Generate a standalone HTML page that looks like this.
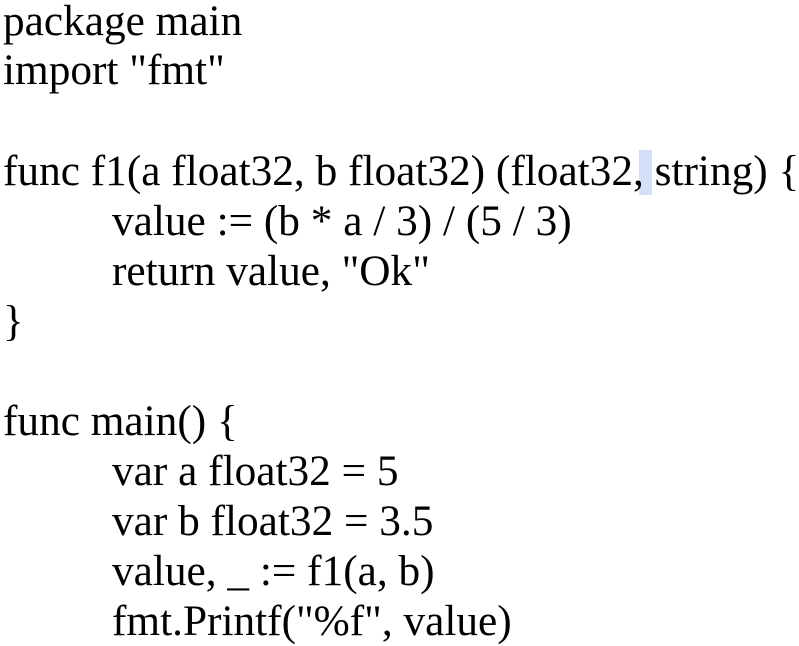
<!DOCTYPE html>
<html><head><meta charset="utf-8"><style>
html,body{margin:0;padding:0;background:#fff;width:799px;height:643px;overflow:hidden}
.l{position:absolute;left:3px;font-family:"Liberation Serif",serif;font-size:43.3px;line-height:50px;color:#000;white-space:pre}
.i{left:112px}
.hl{position:absolute;left:639px;top:150px;width:13px;height:45px;background:#d3e0f7}
</style></head><body>
<div class="hl"></div>
<div class="l" style="top:-4px">package main</div>
<div class="l" style="top:45px">import "fmt"</div>
<div class="l" style="top:146px">func f1(a float32, b float32) (float32, string) {</div>
<div class="l i" style="top:196px">value := (b * a / 3) / (5 / 3)</div>
<div class="l i" style="top:246px">return value, "Ok"</div>
<div class="l" style="top:296px">}</div>
<div class="l" style="top:396px">func main() {</div>
<div class="l i" style="top:446px">var a float32 = 5</div>
<div class="l i" style="top:496px">var b float32 = 3.5</div>
<div class="l i" style="top:546px">value, _ := f1(a, b)</div>
<div class="l i" style="top:596px">fmt.Printf("%f", value)</div>
</body></html>
